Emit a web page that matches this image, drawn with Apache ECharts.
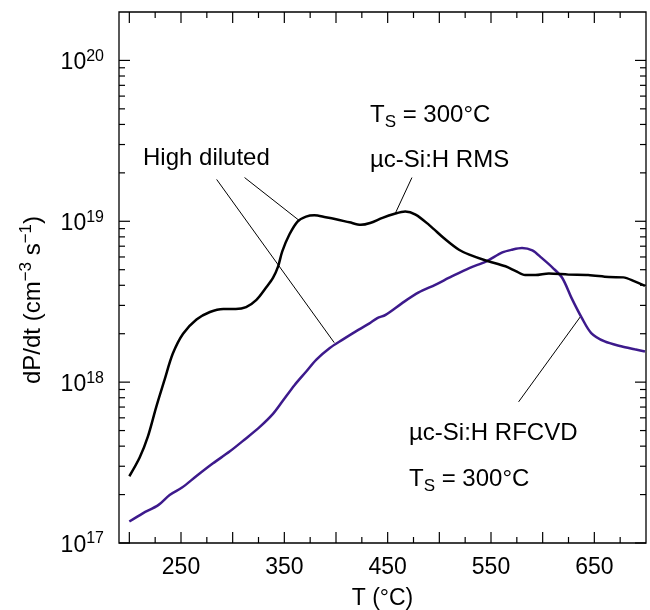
<!DOCTYPE html>
<html>
<head>
<meta charset="utf-8">
<script src="https://cdn.jsdelivr.net/npm/echarts@6/dist/echarts.min.js"></script>
<style>
  html, body { margin: 0; padding: 0; background: #fff; }
  #chart { width: 650px; height: 610px; }
</style>
</head>
<body>
<div id="chart"></div>
<script>
// RMS curve (black)
var rmsT = [200, 210, 218, 226, 234, 242, 252, 265, 278, 291,
            303, 313, 323, 332, 339, 344, 348, 355, 363, 371,
            379, 390, 400, 413, 424, 433, 445, 456, 467, 477,
            490, 506, 519, 529, 545, 564, 574, 583, 593, 606,
            625, 644, 664, 678, 689, 699];
var rmsV = [2.6e17, 3.4e17, 4.6e17, 7.0e17, 1.03e18, 1.5e18, 2.0e18, 2.45e18, 2.73e18, 2.85e18,
            2.85e18, 2.93e18, 3.25e18, 3.85e18, 4.45e18, 5.25e18, 6.5e18, 8.3e18, 1.0e19, 1.07e19,
            1.09e19, 1.06e19, 1.03e19, 9.85e18, 9.5e18, 9.75e18, 1.05e19, 1.11e19, 1.15e19, 1.1e19,
            9.5e18, 7.7e18, 6.65e18, 6.2e18, 5.7e18, 5.25e18, 4.9e18, 4.63e18, 4.63e18, 4.74e18,
            4.66e18, 4.63e18, 4.5e18, 4.48e18, 4.23e18, 3.97e18];

// RFCVD curve (purple)
var rfT = [200, 213, 228, 239, 251, 265, 281, 297, 312, 326,
           339, 348, 360, 371, 381, 394, 406, 422, 432, 440,
           448, 464, 480, 496, 512, 529, 545, 561, 570, 580,
           590, 599, 610, 619, 628, 638, 647, 660, 676, 689,
           699];
var rfV = [1.36e17, 1.53e17, 1.72e17, 1.99e17, 2.21e17, 2.61e17, 3.13e17, 3.7e17, 4.42e17, 5.25e17,
           6.35e17, 7.57e17, 9.6e17, 1.16e18, 1.38e18, 1.63e18, 1.83e18, 2.12e18, 2.31e18, 2.5e18,
           2.62e18, 3.1e18, 3.61e18, 4.03e18, 4.54e18, 5.12e18, 5.62e18, 6.4e18, 6.65e18, 6.82e18,
           6.59e18, 5.92e18, 5.12e18, 4.44e18, 3.33e18, 2.5e18, 2.02e18, 1.79e18, 1.67e18, 1.6e18,
           1.55e18];

// leader lines for the labels (data coords)
var leadHigh1 = [[311.5, 1.87e19], [364.5, 1.01e19]];
var leadHigh2 = [[284.5, 1.82e19], [398.3, 1.76e18]];
var leadRms = [[473.5, 1.87e19], [457.1, 1.11e19]];
var leadRf = [[576.7, 7.54e17], [636.5, 2.55e18]];

// axes
var X_MIN = 190, X_MAX = 700;
var Y_MIN = 1e17, Y_MAX = 2e20;
var xLabels = [250, 350, 450, 550, 650];
var xMajorTicks = [200, 250, 300, 350, 400, 450, 500, 550, 600, 650];
var xMinorTicks = [225, 275, 325, 375, 425, 475, 525, 575, 625, 675];
var yMajorTicks = [1e17, 1e18, 1e19, 1e20];
var yMinorTicks = [2e17, 3e17, 4e17, 5e17, 6e17, 7e17, 8e17, 9e17,
                   2e18, 3e18, 4e18, 5e18, 6e18, 7e18, 8e18, 9e18,
                   2e19, 3e19, 4e19, 5e19, 6e19, 7e19, 8e19, 9e19];

var FONT = 'Liberation Sans, Arial, Helvetica, sans-serif';

function pair(a, b) {
    return a.map(function (v, i) { return [v, b[i]]; });
}

// ticks drawn inward on all four sides
function xTickSeries(vals, len) {
    return {
        type: 'custom', silent: true, clip: false,
        data: vals.map(function (v) { return [v, Y_MIN]; }),
        renderItem: function (params, api) {
            var v = api.value(0);
            var b = api.coord([v, Y_MIN]), t = api.coord([v, Y_MAX]);
            var st = {stroke: '#000', lineWidth: 1.2};
            return {type: 'group', children: [
                {type: 'line', shape: {x1: b[0], y1: b[1], x2: b[0], y2: b[1] - len}, style: st},
                {type: 'line', shape: {x1: t[0], y1: t[1], x2: t[0], y2: t[1] + len}, style: st}
            ]};
        }
    };
}
function yTickSeries(vals, len) {
    return {
        type: 'custom', silent: true, clip: false,
        data: vals.map(function (v) { return [X_MIN, v]; }),
        renderItem: function (params, api) {
            var v = api.value(1);
            var l = api.coord([X_MIN, v]), r = api.coord([X_MAX, v]);
            var st = {stroke: '#000', lineWidth: 1.2};
            return {type: 'group', children: [
                {type: 'line', shape: {x1: l[0], y1: l[1], x2: l[0] + len, y2: l[1]}, style: st},
                {type: 'line', shape: {x1: r[0], y1: r[1], x2: r[0] - len, y2: r[1]}, style: st}
            ]};
        }
    };
}
function leader(d) {
    return {
        type: 'line', data: d, symbol: 'none', silent: true, animation: false,
        lineStyle: {color: '#000', width: 1}
    };
}

var rich = {
    b: {fontSize: 23, fontFamily: FONT, color: '#000', lineHeight: 29},
    sup: {fontSize: 16, fontFamily: FONT, color: '#000', lineHeight: 16, verticalAlign: 'top'},
    a: {fontSize: 24, fontFamily: FONT, color: '#000', lineHeight: 30},
    asup: {fontSize: 17, fontFamily: FONT, color: '#000', lineHeight: 17, verticalAlign: 'top'},
    tb: {fontSize: 24, fontFamily: FONT, color: '#000', lineHeight: 31},
    sub: {fontSize: 17, fontFamily: FONT, color: '#000', lineHeight: 17, verticalAlign: 'bottom'}
};

function label(x, y, text) {
    return {
        type: 'text', x: x, y: y, silent: true,
        style: {text: text, rich: rich, align: 'left', verticalAlign: 'middle',
                font: '24px ' + FONT, fill: '#000'}
    };
}

var chart = echarts.init(document.getElementById('chart'));
chart.setOption({
    animation: false,
    backgroundColor: '#fff',
    grid: {left: 119, right: 4, top: 12, bottom: 67, outerBoundsMode: 'none', containLabel: false,
           show: true, borderColor: '#000', borderWidth: 1.3, backgroundColor: 'transparent'},
    xAxis: {
        // ticks run from min (190) in steps of 10; only 250, 350, ... get a label
        type: 'value', min: X_MIN, max: X_MAX, interval: 10,
        axisLine: {show: false}, axisTick: {show: false}, splitLine: {show: false},
        axisLabel: {
            interval: 0, hideOverlap: false,
            margin: 13, color: '#000', fontSize: 23, fontFamily: FONT,
            formatter: function (v) { return xLabels.indexOf(Math.round(v)) >= 0 ? String(Math.round(v)) : ''; }
        },
        name: 'T (°C)', nameLocation: 'middle', nameGap: 44,
        nameTextStyle: {color: '#000', fontSize: 23, fontFamily: FONT}
    },
    yAxis: {
        type: 'log', logBase: 10, min: Y_MIN, max: Y_MAX,
        axisLine: {show: false}, axisTick: {show: false}, splitLine: {show: false},
        axisLabel: {
            margin: 15, color: '#000', padding: [5, 0, 0, 0],
            formatter: function (v) {
                var e = Math.log10(v), n = Math.round(e);
                if (Math.abs(e - n) > 1e-6) return '';
                return '{b|10}{sup|' + n + '}';
            },
            rich: rich
        }
    },
    graphic: [
        {
            type: 'text', x: 33, y: 300, rotation: Math.PI / 2, silent: true,
            style: {text: '{a|dP/dt (cm}{asup|−3}{a| s}{asup|−1}{a|)}', rich: rich,
                    align: 'center', verticalAlign: 'middle', font: '24px ' + FONT, fill: '#000'}
        },
        label(370, 115, '{tb|T}{sub|S}{tb| = 300°C}'),
        label(370, 160, '{a|µc-Si:H RMS}'),
        label(143, 158, '{a|High diluted}'),
        label(409, 433, '{a|µc-Si:H RFCVD}'),
        label(409, 479, '{tb|T}{sub|S}{tb| = 300°C}')
    ],
    series: [
        xTickSeries(xMajorTicks, 11),
        xTickSeries(xMinorTicks, 6),
        yTickSeries(yMajorTicks, 11),
        yTickSeries(yMinorTicks, 6),
        leader(leadHigh1),
        leader(leadHigh2),
        leader(leadRms),
        leader(leadRf),
        {
            name: 'RFCVD', type: 'line', data: pair(rfT, rfV), symbol: 'none', smooth: 0.3,
            lineStyle: {color: '#3d1a8c', width: 2.5}
        },
        {
            name: 'RMS', type: 'line', data: pair(rmsT, rmsV), symbol: 'none', smooth: 0.3,
            lineStyle: {color: '#000', width: 2.5}
        }
    ]
});
</script>
</body>
</html>
